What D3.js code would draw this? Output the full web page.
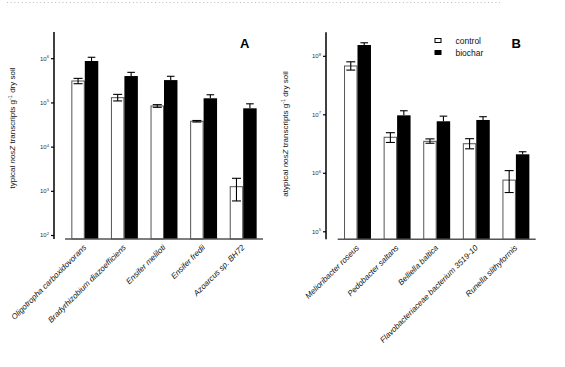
<!DOCTYPE html>
<html><head><meta charset="utf-8">
<script src="https://cdn.jsdelivr.net/npm/d3@7"></script>
<style>body{margin:0;background:#fff}svg{display:block;font-family:"Liberation Sans",Arial,sans-serif}</style>
</head><body>
<svg id="c" width="565" height="367"></svg>
<script>
// Panel A data
const catsA = ["Oligotropha carboxidovorans","Bradyrhizobium diazoefficiens","Ensifer meliloti","Ensifer fredii","Azoarcus sp. BH72"];
const ctrlA = [3.05e5, 1.28e5, 8.3e4, 3.75e4, 1.24e3];
const ctrlErrHiA = [3.5e5, 1.52e5, 8.9e4, 3.9e4, 1.92e3];
const ctrlErrLoA = [2.65e5, 1.08e5, 7.75e4, 3.6e4, 5.9e2];
const bioA = [8.65e5, 3.95e5, 3.2e5, 1.24e5, 7.35e4];
const bioErrHiA = [1.05e6, 4.79e5, 3.9e5, 1.49e5, 9.3e4];
const ticksA = [1e2, 1e3, 1e4, 1e5, 1e6];
const expA = ["2","3","4","5","6"];
// Panel B data
const catsB = ["Melioribacter roseus","Pedobacter saltans","Belliella baltica","Flavobacteriaceae bacterium 3519-10","Runella slithyformis"];
const ctrlB = [6.7e7, 4.05e6, 3.45e6, 3.14e6, 7.5e5];
const ctrlErrHiB = [7.9e7, 4.85e6, 3.8e6, 3.83e6, 1.09e6];
const ctrlErrLoB = [5.7e7, 3.3e6, 3.2e6, 2.57e6, 4.6e5];
const bioB = [1.53e8, 9.6e6, 7.6e6, 8.0e6, 2.07e6];
const bioErrHiB = [1.67e8, 1.15e7, 9.3e6, 9.1e6, 2.29e6];
const ticksB = [1e5, 1e6, 1e7, 1e8];
const expB = ["5","6","7","8"];
const seriesNames = ["control","biochar"];

const svg = d3.select("#c");

// dotted top border
svg.append("line").attr("x1",7).attr("x2",500).attr("y1",2.5).attr("y2",2.5)
  .attr("stroke","#bbb").attr("stroke-width",1).attr("stroke-dasharray","1,2.7");

function panel(o){
  const x = d3.scaleBand().domain(o.cats).range([o.x0, o.x1]).paddingInner(0.32).paddingOuter(0.16);
  const y = d3.scaleLog().domain(o.ydom).range([o.yb, o.yt]);
  const sub = d3.scaleBand().domain(seriesNames).range([0, x.bandwidth()]);
  const g = svg.append("g");
  // y axis
  const ax = d3.axisLeft(y).tickValues(o.ticks).tickSize(3).tickFormat(()=> "10");
  const ga = g.append("g").attr("transform",`translate(${o.ax},0)`).call(ax);
  ga.select(".domain").remove();
  ga.append("line").attr("x1",0).attr("x2",0).attr("y1",o.yt).attr("y2",o.yb).attr("stroke","#000").attr("stroke-width",1.5);
  ga.selectAll(".tick line").attr("stroke","#000").attr("stroke-width",1.2);
  ga.selectAll(".tick text").attr("font-size",6).attr("fill","#333").attr("x",-5).attr("font-family","Liberation Sans, Arial, sans-serif")
    .each(function(d,i){
      d3.select(this).append("tspan").attr("dy",-2.5).attr("font-size",4.2).text(o.exps[i]);
    });
  // bars
  const ctrlRows = o.cats.map((c,i)=>({c, v:o.ctrl[i], hi:o.ctrlHi[i], lo:o.ctrlLo[i]}));
  const bioRows = o.cats.map((c,i)=>({c, v:o.bio[i], hi:o.bioHi[i]}));
  g.selectAll(".cb").data(ctrlRows).join("rect")
    .attr("x",d=>x(d.c)+sub("control")+0.5).attr("width",sub.bandwidth()-1)
    .attr("y",d=>y(d.v)).attr("height",d=>o.yb - y(d.v))
    .attr("fill","#fff").attr("stroke","#555").attr("stroke-width",1);
  g.selectAll(".bb").data(bioRows).join("rect")
    .attr("x",d=>x(d.c)+sub("biochar")).attr("width",sub.bandwidth())
    .attr("y",d=>y(d.v)).attr("height",d=>o.yb - y(d.v))
    .attr("fill","#000");
  // error bars control
  const cw = 4.5;
  ctrlRows.forEach(d=>{
    const cx = x(d.c)+sub("control")+sub.bandwidth()/2;
    g.append("line").attr("x1",cx).attr("x2",cx).attr("y1",y(d.hi)).attr("y2",y(d.lo)).attr("stroke","#000").attr("stroke-width",1.1);
    [d.hi,d.lo].forEach(v=>g.append("line").attr("x1",cx-cw).attr("x2",cx+cw).attr("y1",y(v)).attr("y2",y(v)).attr("stroke","#000").attr("stroke-width",1.1));
  });
  bioRows.forEach(d=>{
    const cx = x(d.c)+sub("biochar")+sub.bandwidth()/2;
    g.append("line").attr("x1",cx).attr("x2",cx).attr("y1",y(d.hi)).attr("y2",y(d.v)).attr("stroke","#000").attr("stroke-width",1.1);
    g.append("line").attr("x1",cx-3.8).attr("x2",cx+3.8).attr("y1",y(d.hi)).attr("y2",y(d.hi)).attr("stroke","#000").attr("stroke-width",1.1);
  });
  // x axis line
  g.append("line").attr("x1",o.x0).attr("x2",o.x1).attr("y1",o.yb).attr("y2",o.yb).attr("stroke","#555").attr("stroke-width",1.5);
  // category labels
  o.cats.forEach(c=>{
    const cx = x(c)+x.bandwidth()/2+2;
    g.append("text").attr("transform",`translate(${cx},${o.yb+9}) rotate(-45)`)
      .attr("text-anchor","end").attr("font-size",8).attr("font-style","italic").attr("fill","#111").text(c);
  });
  // y title
  const t = g.append("text").attr("transform",`translate(${o.tx},${o.ty}) rotate(-90)`)
    .attr("text-anchor","middle").attr("font-size",8).attr("fill","#111");
  t.append("tspan").text(o.t1);
  t.append("tspan").attr("font-style","italic").text("nosZ");
  t.append("tspan").text(o.t2);
  t.append("tspan").attr("dy",-3).attr("font-size",5.5).text("-1");
  t.append("tspan").attr("dy",3).text(" dry soil");
  // panel letter
  g.append("text").attr("x",o.lx).attr("y",47.5).attr("font-size",13).attr("font-weight","bold").text(o.letter);
}

panel({cats:catsA, ctrl:ctrlA, ctrlHi:ctrlErrHiA, ctrlLo:ctrlErrLoA, bio:bioA, bioHi:bioErrHiA,
  ticks:ticksA, exps:expA, ydom:[Math.pow(10,1.91), Math.pow(10,6.593)], yb:239, yt:32,
  x0:65, x1:263, ax:54, tx:15, ty:128, t1:"typical ", t2:" transcripts g", lx:240, letter:"A"});
panel({cats:catsB, ctrl:ctrlB, ctrlHi:ctrlErrHiB, ctrlLo:ctrlErrLoB, bio:bioB, bioHi:bioErrHiB,
  ticks:ticksB, exps:expB, ydom:[Math.pow(10,4.863), Math.pow(10,8.402)], yb:239.3, yt:32.3,
  x0:337.7, x1:535.7, ax:326, tx:288, ty:134, t1:"atypical ", t2:"  transcripts g", lx:511.5, letter:"B"});

// legend
const leg = svg.append("g");
seriesNames.forEach((s,i)=>{
  leg.append("rect").attr("x",435).attr("y",38.5+i*12).attr("width",6).attr("height",4)
    .attr("fill", s==="control" ? "#fff" : "#000").attr("stroke","#000").attr("stroke-width",1);
  leg.append("text").attr("x",455.5).attr("y",43.5+i*12).attr("font-size",8.5).attr("fill","#111").text(s);
});
</script>
</body></html>
